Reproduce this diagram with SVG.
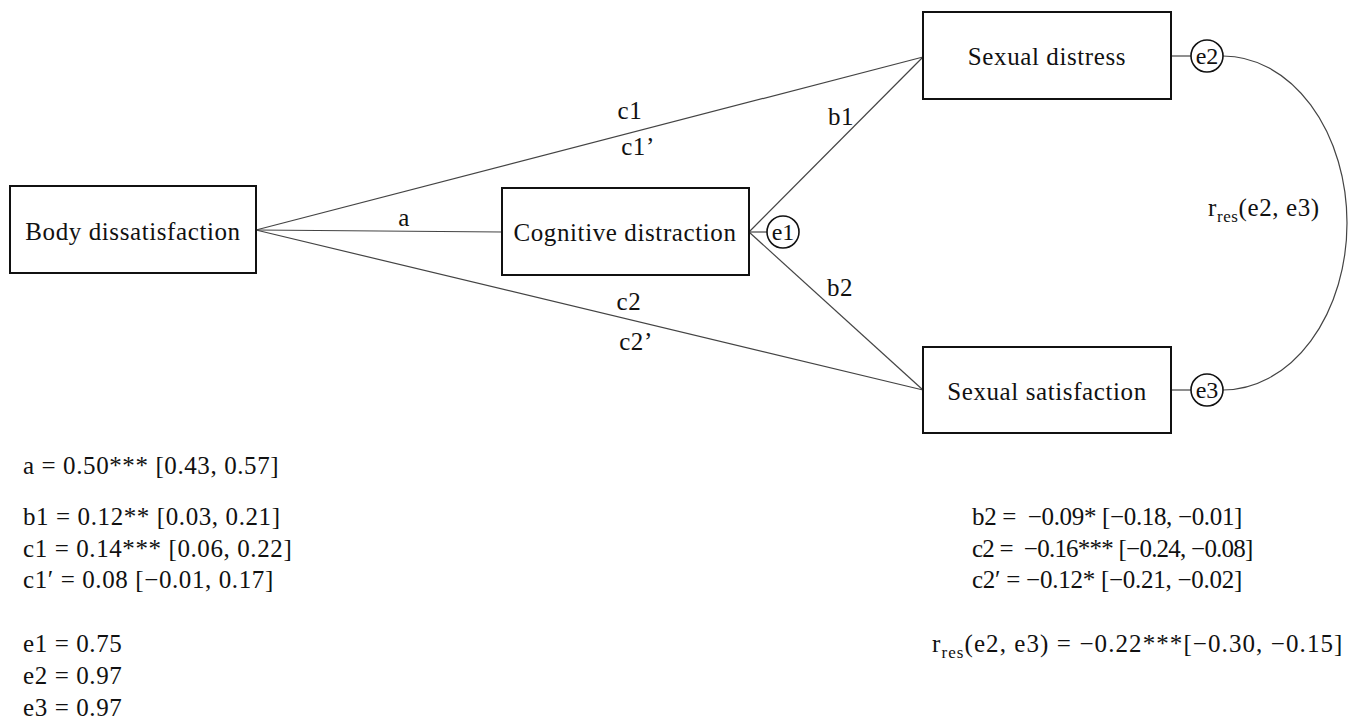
<svg xmlns="http://www.w3.org/2000/svg" width="1357" height="727" viewBox="0 0 1357 727">
<style>
text{font-family:"Liberation Serif","DejaVu Serif",serif;fill:#111;font-size:25px;letter-spacing:0.6px}
.box{fill:#fff;stroke:#111;stroke-width:2}
.err{fill:#fff;stroke:#111;stroke-width:1.6}
.ln{stroke:#444;stroke-width:1.2;fill:none}
.mid{text-anchor:middle}
.sub{font-size:17px}
.et{font-size:24px;letter-spacing:0}
</style>
<rect width="1357" height="727" fill="#fff"/>
<g id="connectors">
<line class="ln" x1="256" y1="230" x2="923" y2="57"/>
<line class="ln" x1="256" y1="230" x2="502" y2="232"/>
<line class="ln" x1="256" y1="230" x2="923" y2="390"/>
<line class="ln" x1="749" y1="232" x2="923" y2="57"/>
<line class="ln" x1="749" y1="232" x2="923" y2="390"/>
<line class="ln" x1="749" y1="232" x2="767" y2="232"/>
<line class="ln" x1="1171" y1="56" x2="1191" y2="56"/>
<line class="ln" x1="1171" y1="390" x2="1191" y2="390"/>
<path class="ln" d="M1223,56 A124,167 0 0 1 1223,390"/>
<text x="630" y="119" class="mid">c1</text>
<text x="638" y="155" class="mid">c1’</text>
<text x="404" y="226" class="mid">a</text>
<text x="841" y="125" class="mid">b1</text>
<text x="840" y="296" class="mid">b2</text>
<text x="629" y="310" class="mid">c2</text>
<text x="636" y="350" class="mid">c2’</text>
<text x="1208" y="216">r<tspan class="sub" dy="6">res</tspan><tspan dy="-6">(e2, e3)</tspan></text>
</g>
<g id="body">
<rect class="box" x="10" y="186" width="246" height="87"/>
<text x="133" y="240" class="mid">Body dissatisfaction</text>
</g>
<g id="cognitive">
<rect class="box" x="502" y="188" width="247" height="87"/>
<text x="625" y="241" class="mid">Cognitive distraction</text>
</g>
<g id="e1">
<circle class="err" cx="783" cy="232" r="16"/>
<text x="783" y="240" class="mid et">e1</text>
</g>
<g id="distress">
<rect class="box" x="923" y="12" width="248" height="87"/>
<text x="1047" y="65" class="mid">Sexual distress</text>
</g>
<g id="e2">
<circle class="err" cx="1207" cy="56" r="16"/>
<text x="1207" y="64" class="mid et">e2</text>
</g>
<g id="satisfaction">
<rect class="box" x="923" y="347" width="248" height="86"/>
<text x="1047" y="400" class="mid">Sexual satisfaction</text>
</g>
<g id="e3">
<circle class="err" cx="1207" cy="390" r="16"/>
<text x="1207" y="398" class="mid et">e3</text>
</g>
<g id="stats-left">
<text x="23" y="474">a = 0.50*** [0.43, 0.57]</text>
<text x="23" y="525">b1 = 0.12** [0.03, 0.21]</text>
<text x="23" y="557">c1 = 0.14*** [0.06, 0.22]</text>
<text x="23" y="588">c1′ = 0.08 [−0.01, 0.17]</text>
<text x="23" y="652">e1 = 0.75</text>
<text x="23" y="684">e2 = 0.97</text>
<text x="23" y="716">e3 = 0.97</text>
</g>
<g id="stats-right">
<text x="972" y="525" xml:space="preserve" textLength="271">b2 =  −0.09* [−0.18, −0.01]</text>
<text x="972" y="557" xml:space="preserve" textLength="282">c2 =  −0.16*** [−0.24, −0.08]</text>
<text x="972" y="588" textLength="271">c2′ = −0.12* [−0.21, −0.02]</text>
<text x="932" y="652" textLength="411">r<tspan class="sub" dy="6">res</tspan><tspan dy="-6">(e2, e3) = −0.22***[−0.30, −0.15]</tspan></text>
</g>
</svg>
